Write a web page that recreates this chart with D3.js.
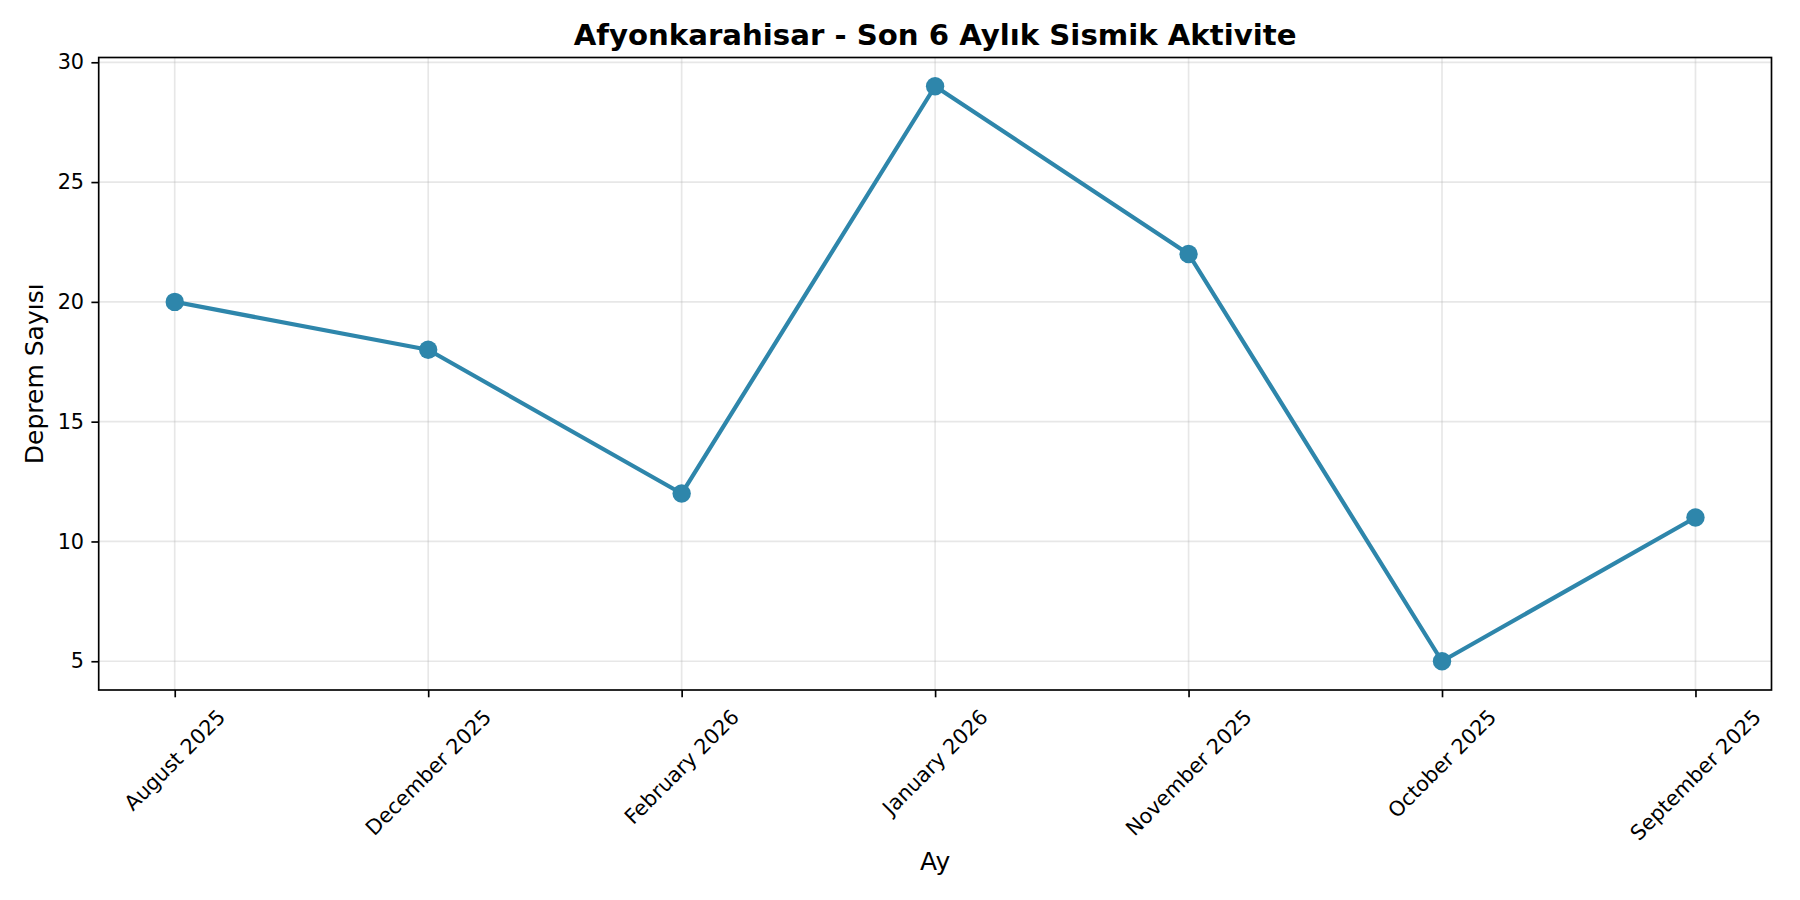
<!DOCTYPE html>
<html>
<head>
<meta charset="utf-8">
<script src="https://cdn.jsdelivr.net/npm/d3@7"></script>
<style>
  body { margin: 0; background: #fff; }
  svg { font-family: "DejaVu Sans", sans-serif; }
</style>
</head>
<body>
<div id="viz"></div>
<script>
var months = ["August 2025", "December 2025", "February 2026", "January 2026",
              "November 2025", "October 2025", "September 2025"];
var counts = [20, 18, 12, 29, 22, 5, 11];
var yTicks = [5, 10, 15, 20, 25, 30];

var titleText = "Afyonkarahisar - Son 6 Aylık Sismik Aktivite",
    xLabel = "Ay",
    yLabel = "Deprem Sayısı";

var width = 1800,
    height = 900,
    margin = {top: 57.5, right: 28.5, bottom: 210, left: 98.7};

var lineColor = "#2E86AB";

var svg = d3.select("#viz").append("svg")
    .attr("width", width)
    .attr("height", height);

var x = d3.scaleLinear()
    .domain([-0.3, months.length - 1 + 0.3])
    .range([margin.left, width - margin.right]);

var yMin = d3.min(counts), yMax = d3.max(counts), pad = (yMax - yMin) * 0.05;
var y = d3.scaleLinear()
    .domain([yMin - pad, yMax + pad])
    .range([height - margin.bottom, margin.top]);

// grid
svg.append("g").selectAll("line.gx")
    .data(months)
  .enter().append("line")
    .attr("x1", function(d, i) { return x(i); })
    .attr("x2", function(d, i) { return x(i); })
    .attr("y1", y.range()[0])
    .attr("y2", y.range()[1])
    .style("stroke", "#b0b0b0")
    .style("stroke-opacity", 0.3)
    .style("stroke-width", 1.67);

svg.append("g").selectAll("line.gy")
    .data(yTicks)
  .enter().append("line")
    .attr("x1", x.range()[0])
    .attr("x2", x.range()[1])
    .attr("y1", function(d) { return y(d); })
    .attr("y2", function(d) { return y(d); })
    .style("stroke", "#b0b0b0")
    .style("stroke-opacity", 0.3)
    .style("stroke-width", 1.67);

// line + markers
var line = d3.line()
    .x(function(d, i) { return x(i); })
    .y(function(d) { return y(d); });

svg.append("path")
    .datum(counts)
    .attr("d", line)
    .style("fill", "none")
    .style("stroke", lineColor)
    .style("stroke-width", 4.2)
    .style("stroke-linejoin", "round")
    .style("stroke-linecap", "square");

svg.append("g").selectAll("circle")
    .data(counts)
  .enter().append("circle")
    .attr("cx", function(d, i) { return x(i); })
    .attr("cy", function(d) { return y(d); })
    .attr("r", 9.2)
    .style("fill", lineColor);

// y axis
var yAxis = svg.append("g")
    .attr("transform", "translate(" + margin.left + ",0)")
    .call(d3.axisLeft(y).tickValues(yTicks).tickSize(7.3).tickPadding(7.3).tickFormat(d3.format("d")));
yAxis.select(".domain").remove();
yAxis.selectAll("line").style("stroke", "#000").style("stroke-width", 1.67);
yAxis.selectAll("text")
    .style("font-family", "DejaVu Sans")
    .style("font-size", "20.8px")
    .style("fill", "#000");

// x axis (ticks only, labels placed rotated below)
var xAxis = svg.append("g")
    .attr("transform", "translate(0," + (height - margin.bottom) + ")")
    .call(d3.axisBottom(x).tickValues(d3.range(months.length)).tickSize(7.3).tickFormat(""));
xAxis.select(".domain").remove();
xAxis.selectAll("line").style("stroke", "#000").style("stroke-width", 1.67);

var labelTop = height - margin.bottom + 7.3 + 7.3,
    fs = 20.8,
    s45 = Math.SQRT1_2;

svg.append("g").selectAll("text")
    .data(months)
  .enter().append("text")
    .style("font-size", fs + "px")
    .style("fill", "#000")
    .attr("text-anchor", "middle")
    .attr("dy", "0.35em")
    .text(function(d) { return d; })
    .attr("transform", function(d, i) {
      var w = this.getComputedTextLength(), h = fs * 1.16;
      var cy = labelTop + (w + h) * s45 / 2;
      return "translate(" + x(i) + "," + cy + ") rotate(-45)";
    });

// frame
svg.append("rect")
    .attr("x", margin.left)
    .attr("y", margin.top)
    .attr("width", width - margin.left - margin.right)
    .attr("height", height - margin.top - margin.bottom)
    .style("fill", "none")
    .style("stroke", "#000")
    .style("stroke-width", 1.67);

// titles
svg.append("text")
    .attr("x", (x.range()[0] + x.range()[1]) / 2)
    .attr("y", 45)
    .attr("text-anchor", "middle")
    .style("font-size", "29.2px")
    .style("font-weight", "bold")
    .text(titleText);

svg.append("text")
    .attr("x", (x.range()[0] + x.range()[1]) / 2)
    .attr("y", 870)
    .attr("text-anchor", "middle")
    .style("font-size", "25px")
    .text(xLabel);

svg.append("text")
    .attr("transform", "translate(43," + ((y.range()[0] + y.range()[1]) / 2) + ") rotate(-90)")
    .attr("text-anchor", "middle")
    .style("font-size", "25px")
    .text(yLabel);
</script>
</body>
</html>
